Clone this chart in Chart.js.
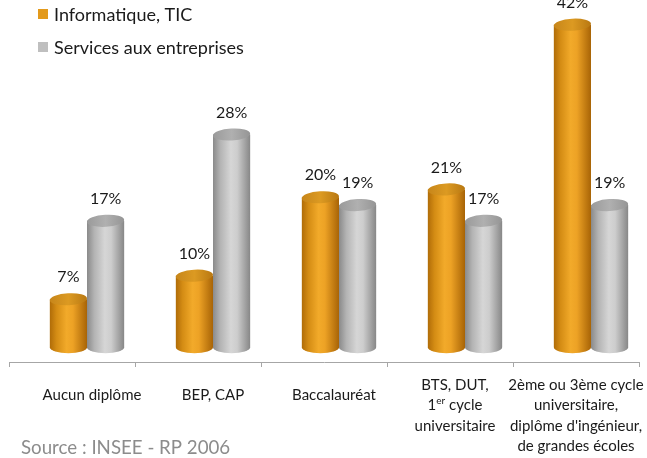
<!DOCTYPE html>
<html>
<head>
  <meta charset="UTF-8" />
  <title>Informatique, TIC vs Services aux entreprises</title>
  <script src="https://cdn.jsdelivr.net/npm/chart.js"></script>
  <style>
    html, body { margin: 0; padding: 0; background: #fff; }
    canvas { display: block; }
  </style>
</head>
<body>
  <canvas id="chart" width="647" height="458"></canvas>
  <script>
    // data
    const categories = [
      ['Aucun diplôme'],
      ['BEP, CAP'],
      ['Baccalauréat'],
      ['BTS, DUT,', '1er cycle', 'universitaire'],
      ['2ème ou 3ème cycle', 'universitaire,', "diplôme d'ingénieur,", 'de grandes écoles']
    ];
    const seriesNames = ['Informatique, TIC', 'Services aux entreprises'];
    const infoTic = [7, 10, 20, 21, 42];
    const services = [17, 28, 19, 17, 19];
    const sourceText = 'Source : INSEE - RP 2006';

    const FONT = 'Lato, "Open Sans", sans-serif';
    const DEPTH = 15;  // 3d shift of the cylinders to the right
    const FLOOR = 7;   // 3d floor sits a little above the value axis

    const palette = [
      { legend: '#e39a1c', top: ['#c7861a', '#dc9a22', '#b87812'],
        body: [[0, '#b06c08'], [0.18, '#d48c14'], [0.45, '#f2aa2a'], [0.62, '#eda225'], [1, '#a86406']] },
      { legend: '#bfbfbf', top: ['#9a9a9a', '#b0b0b0', '#959595'],
        body: [[0, '#8a8a8a'], [0.2, '#b4b4b4'], [0.48, '#d6d6d6'], [0.65, '#cdcdcd'], [1, '#878787']] }
    ];

    function drawCylinder(ctx, cx, top, base, w, pal) {
      const rx = w / 2, ry = 6, left = cx - rx;
      const g = ctx.createLinearGradient(left, 0, left + w, 0);
      pal.body.forEach(s => g.addColorStop(s[0], s[1]));
      ctx.save();
      ctx.fillStyle = g;
      ctx.beginPath();
      ctx.moveTo(left, top);
      ctx.lineTo(left, base);
      ctx.ellipse(cx, base, rx, ry, 0, Math.PI, 0, true);
      ctx.lineTo(left + w, top);
      ctx.closePath();
      ctx.fill();
      const tg = ctx.createLinearGradient(left, 0, left + w, 0);
      tg.addColorStop(0, pal.top[0]);
      tg.addColorStop(0.5, pal.top[1]);
      tg.addColorStop(1, pal.top[2]);
      ctx.fillStyle = tg;
      ctx.beginPath();
      ctx.ellipse(cx, top, rx, ry, -0.06, 0, Math.PI * 2);
      ctx.fill();
      ctx.restore();
    }

    const cylinders = {
      id: 'cylinders',
      afterDatasetsDraw(chart) {
        const ctx = chart.ctx;
        chart.data.datasets.forEach((ds, i) => {
          chart.getDatasetMeta(i).data.forEach(bar => {
            const p = bar.getProps(['x', 'y', 'base', 'width'], true);
            drawCylinder(ctx, p.x + DEPTH, p.y, p.base - FLOOR, p.width, palette[i]);
          });
        });
        // value labels
        ctx.save();
        ctx.font = '16px ' + FONT;
        ctx.fillStyle = '#1a1a1a';
        ctx.textAlign = 'center';
        ctx.textBaseline = 'middle';
        chart.data.datasets.forEach((ds, i) => {
          chart.getDatasetMeta(i).data.forEach((bar, j) => {
            ctx.fillText(ds.data[j] + '%', bar.x + DEPTH, bar.y - 22);
          });
        });
        ctx.restore();
      }
    };

    function drawLine(ctx, text, cx, y) {
      // handles "1er" superscript
      const m = text.match(/^(\d+)(er)(.*)$/);
      if (!m) {
        ctx.textAlign = 'center';
        ctx.fillText(text, cx, y);
        return;
      }
      const big = '15px ' + FONT, small = '10px ' + FONT;
      ctx.font = big;
      const w1 = ctx.measureText(m[1]).width;
      const w3 = ctx.measureText(m[3]).width;
      ctx.font = small;
      const w2 = ctx.measureText(m[2]).width;
      const x = cx - (w1 + w2 + w3) / 2;
      ctx.textAlign = 'left';
      ctx.font = big;
      ctx.fillText(m[1], x, y);
      ctx.font = small;
      ctx.fillText(m[2], x + w1, y - 5);
      ctx.font = big;
      ctx.fillText(m[3], x + w1 + w2, y);
    }

    const texts = {
      id: 'texts',
      afterDraw(chart) {
        const ctx = chart.ctx;
        const xs = chart.scales.x;
        ctx.save();
        // category labels
        ctx.fillStyle = '#1a1a1a';
        ctx.textBaseline = 'middle';
        categories.forEach((lines, i) => {
          const cx = xs.getPixelForValue(i) + (20 - 5 * i);
          const y0 = lines.length > 1 ? 385 : 395;
          lines.forEach((ln, k) => {
            ctx.font = '15px ' + FONT;
            drawLine(ctx, ln, cx, y0 + k * 20.5);
          });
        });
        // legend
        ctx.textAlign = 'left';
        ctx.font = '18px ' + FONT;
        seriesNames.forEach((name, i) => {
          const y = 15 + i * 33;
          ctx.fillStyle = palette[i].legend;
          ctx.fillRect(38, y - 6, 10, 10);
          ctx.fillStyle = '#1a1a1a';
          ctx.fillText(name, 54, y);
        });
        // source
        ctx.font = '18.7px ' + FONT;
        ctx.fillStyle = '#8c8c8c';
        ctx.fillText(sourceText, 21, 448);
        ctx.restore();
      }
    };

    new Chart(document.getElementById('chart'), {
      type: 'bar',
      data: {
        labels: categories,
        datasets: [
          { label: seriesNames[0], data: infoTic, backgroundColor: 'rgba(0,0,0,0)' },
          { label: seriesNames[1], data: services, backgroundColor: 'rgba(0,0,0,0)' }
        ]
      },
      options: {
        responsive: false,
        animation: false,
        events: [],
        layout: { padding: { left: 9, right: 8, top: 9, bottom: 0 } },
        categoryPercentage: 0.59,
        barPercentage: 1,
        plugins: { legend: { display: false }, tooltip: { enabled: false } },
        scales: {
          x: {
            grid: { offset: true, drawOnChartArea: false, tickLength: 5, color: '#a6a6a6' },
            border: { color: '#a6a6a6' },
            ticks: { display: false },
            afterFit(s) { s.height = 96; }
          },
          y: { display: false, min: -1, max: 44 }
        }
      },
      plugins: [cylinders, texts]
    });
  </script>
</body>
</html>
